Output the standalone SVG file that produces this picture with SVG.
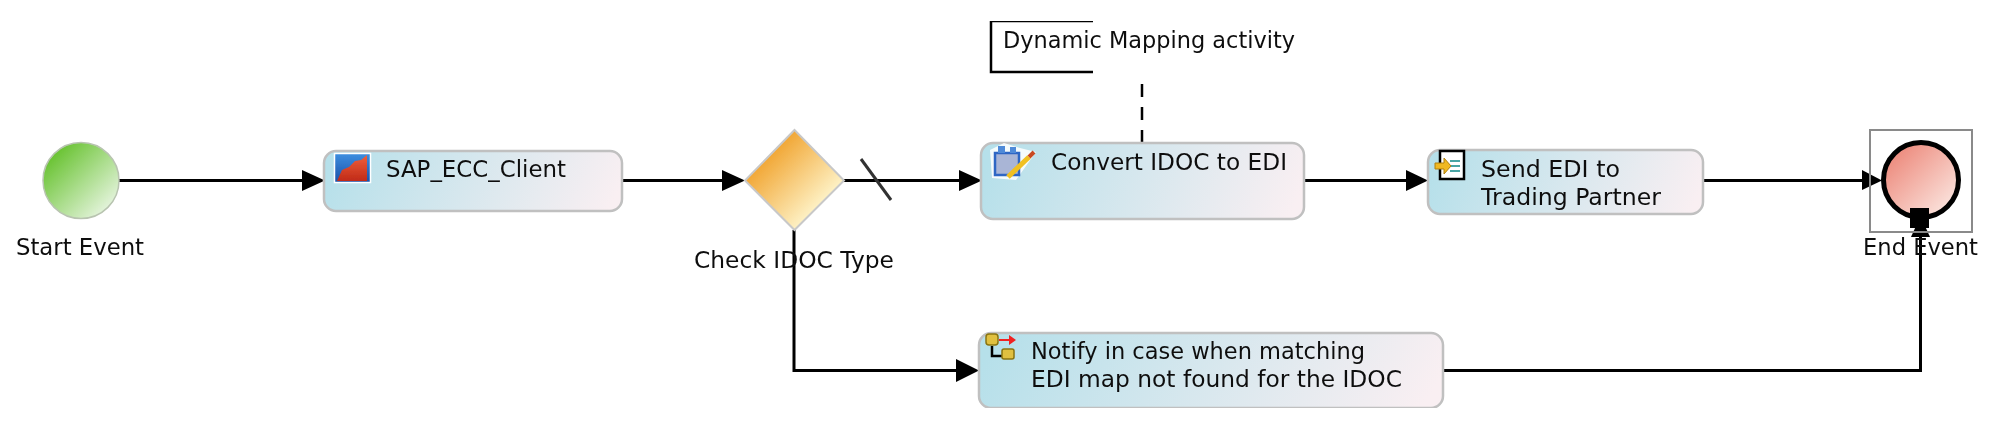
<svg xmlns="http://www.w3.org/2000/svg" width="2000" height="437" viewBox="0 0 2000 437">
<style>
text{font-family:"DejaVu Sans",Verdana,sans-serif;font-size:22.5px;fill:#111}
.task{stroke:#c0c0c0;stroke-width:2.5}
.conn{fill:none;stroke:#000;stroke-width:3}
.head{fill:#000;stroke:none}
</style>
<defs>
<linearGradient id="gTask" x1="0" y1="0.45" x2="1" y2="0.55"><stop offset="0" stop-color="#b6e0ea"/><stop offset="1" stop-color="#f9eff2"/></linearGradient>
<linearGradient id="gStart" x1="0.1" y1="0.1" x2="0.9" y2="0.9"><stop offset="0" stop-color="#62c028"/><stop offset="1" stop-color="#eaf6e4"/></linearGradient>
<linearGradient id="gGate" x1="0.2" y1="0.2" x2="0.8" y2="0.8"><stop offset="0" stop-color="#f0a028"/><stop offset="1" stop-color="#fff8d2"/></linearGradient>
<linearGradient id="gEnd" x1="0.1" y1="0.1" x2="0.9" y2="0.9"><stop offset="0" stop-color="#ec8678"/><stop offset="1" stop-color="#fbe6e0"/></linearGradient>
<linearGradient id="gBlue" x1="0" y1="0" x2="0" y2="1"><stop offset="0" stop-color="#3d8fe0"/><stop offset="1" stop-color="#1a4fa8"/></linearGradient>
<linearGradient id="gRed" x1="0" y1="0" x2="0" y2="1"><stop offset="0" stop-color="#f0603a"/><stop offset="1" stop-color="#c02a18"/></linearGradient>
<filter id="soft" x="0" y="0" width="100%" height="100%"><feGaussianBlur stdDeviation="0.6"/></filter>
</defs>
<g filter="url(#soft)">
<g id="connectors">
<path class="conn" d="M119 180.500H304"/><path class="head" d="M302 170L325 180.500L302 191Z"/>
<path class="conn" d="M622 180.500H724"/><path class="head" d="M722 170L745 180.500L722 191Z"/>
<path class="conn" d="M844 180.500H961"/><path class="head" d="M959 170L982 180.500L959 191Z"/>
<path d="M861 159L891 200" fill="none" stroke="#333" stroke-width="3"/>
<path class="conn" d="M1304 180.500H1408"/><path class="head" d="M1406 170L1428 180.500L1406 191Z"/>
<path class="conn" d="M1703 180.500H1864"/><path class="head" d="M1862 170L1882 180.500L1862 190Z"/>
<path class="conn" d="M794 230V370.500H958"/><path class="head" d="M956 359L979 370.500L956 382Z"/>
<path class="conn" d="M1443 370.500H1920.500V236"/><path class="head" d="M1911 237L1920.500 216L1930 237Z"/>
<path d="M1142 84V143" fill="none" stroke="#000" stroke-width="2.500" stroke-dasharray="13 10"/>
</g>
<g id="start-event">
<circle cx="81" cy="180.500" r="38" fill="url(#gStart)" stroke="#b8c4b0" stroke-width="1.500"/>
<text x="16" y="255" textLength="128" lengthAdjust="spacingAndGlyphs">Start Event</text>
</g>
<g id="sap-ecc-client">
<rect class="task" x="324" y="151" width="298" height="60" rx="12" fill="url(#gTask)"/>
<rect x="334.500" y="153.500" width="36" height="29" fill="url(#gBlue)" stroke="#fff" stroke-width="1.500"/>
<path d="M337 181L342 170L349 167L355 161L361 160L367 155V181Z" fill="url(#gRed)"/>
<text x="386" y="177" textLength="180" lengthAdjust="spacingAndGlyphs">SAP_ECC_Client</text>
</g>
<g id="check-idoc-type">
<path d="M794.500 130L844 180.500L794.500 230L745 180.500Z" fill="url(#gGate)" stroke="#c8c8c8" stroke-width="2"/>
<text x="694" y="268" textLength="200" lengthAdjust="spacingAndGlyphs">Check IDOC Type</text>
</g>
<g id="convert-idoc-to-edi">
<rect class="task" x="981" y="143" width="323" height="76" rx="12" fill="url(#gTask)"/>
<path d="M990 150L1004 143L1020 148L1036 152L1016 180L992 178Z" fill="#fff" opacity="0.85"/>
<rect x="995" y="153" width="24" height="22" fill="#a9b5d6" stroke="#2f66c4" stroke-width="2.500"/>
<rect x="998" y="146" width="7" height="7" fill="#4f8ad8"/><rect x="1010" y="147" width="6" height="6" fill="#4f8ad8"/>
<path d="M1008 177L1029 157" stroke="#f0c020" stroke-width="5" fill="none"/>
<path d="M1029 157L1034 152" stroke="#c84a20" stroke-width="4" fill="none"/>
<text x="1051" y="170" textLength="236" lengthAdjust="spacingAndGlyphs">Convert IDOC to EDI</text>
</g>
<g id="send-edi">
<rect class="task" x="1428" y="150" width="275" height="64" rx="12" fill="url(#gTask)"/>
<rect x="1440" y="151" width="24" height="28" fill="#fff" stroke="#000" stroke-width="2.500"/>
<path d="M1450 161H1460M1450 166H1460M1450 171H1460" stroke="#4aa5a5" stroke-width="2"/>
<path d="M1435 163H1444V158L1451 166L1444 174V169H1435Z" fill="#f0b820" stroke="#b08010" stroke-width="1"/>
<text x="1481" y="177" textLength="139" lengthAdjust="spacingAndGlyphs">Send EDI to</text>
<text x="1481" y="205" textLength="180" lengthAdjust="spacingAndGlyphs">Trading Partner</text>
</g>
<g id="notify">
<rect class="task" x="979" y="333" width="464" height="75" rx="12" fill="url(#gTask)"/>
<path d="M992 346V356H1002" fill="none" stroke="#000" stroke-width="2.500"/>
<rect x="986" y="334" width="12" height="11" rx="3" fill="#e0c040" stroke="#8a7410" stroke-width="1.500"/>
<rect x="1002" y="349" width="12" height="10" rx="2" fill="#e0c040" stroke="#8a7410" stroke-width="1.500"/>
<path d="M999 340H1011" stroke="#f02020" stroke-width="2" fill="none"/><path d="M1009 335L1016 340L1009 345Z" fill="#f02020"/>
<text x="1031" y="359" textLength="334" lengthAdjust="spacingAndGlyphs">Notify in case when matching</text>
<text x="1031" y="387" textLength="371" lengthAdjust="spacingAndGlyphs">EDI map not found for the IDOC</text>
</g>
<g id="annotation">
<path d="M1093 21H991V72H1093" fill="none" stroke="#000" stroke-width="2.500"/>
<text x="1003" y="48" textLength="292" lengthAdjust="spacingAndGlyphs">Dynamic Mapping activity</text>
</g>
<g id="end-event">
<circle cx="1921" cy="180" r="37.500" fill="url(#gEnd)" stroke="#000" stroke-width="5"/>
<rect x="1870" y="130" width="102" height="102" fill="none" stroke="#8a8a8a" stroke-width="2"/>
<rect x="1910" y="208" width="19" height="20" fill="#000"/>
<text x="1863" y="255" textLength="115" lengthAdjust="spacingAndGlyphs">End Event</text>
</g>
</g>
</svg>
